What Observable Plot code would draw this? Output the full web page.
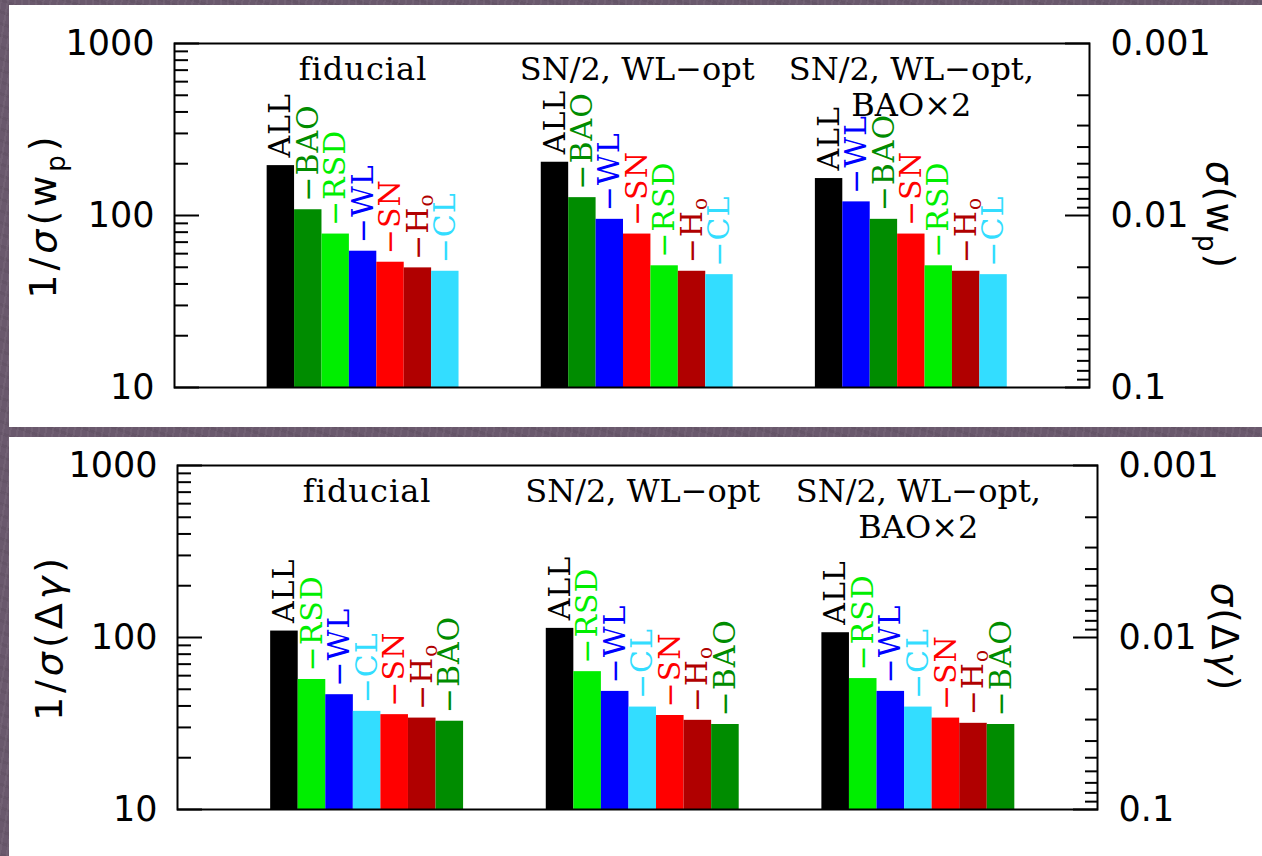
<!DOCTYPE html>
<html>
<head>
<meta charset="utf-8">
<script src="https://cdn.jsdelivr.net/npm/d3@7"></script>
<script src="https://cdn.jsdelivr.net/npm/@observablehq/plot@0.6"></script>
<style>
  html, body { margin: 0; padding: 0; }
  body {
    width: 1262px; height: 856px; overflow: hidden; position: relative;
    background-color: #6a596d;
    background-image:
      repeating-linear-gradient(100deg, rgba(255,255,255,0.05) 0 2px, rgba(0,0,0,0) 2px 7px),
      repeating-linear-gradient(20deg, rgba(0,0,0,0.05) 0 3px, rgba(0,0,0,0) 3px 11px);
  }
  .panel { position: absolute; left: 9px; width: 1253px; background: #fff; }
  .panel svg { display: block; }
  #wp { top: 5px; height: 422px; }
  #dg { top: 437px; height: 419px; }
</style>
</head>
<body>
<div id="wp" class="panel"></div>
<div id="dg" class="panel"></div>
<script>
// Scenario headings, one per group of bars
const scenarios = ["fiducial", "SN/2, WL−opt", "SN/2, WL−opt,\nBAO×2"];

// Probe colours
const probeColors = {
  ALL: "#000000", BAO: "#008c00", RSD: "#00ee00", WL: "#0000ff",
  SN: "#ff0000", H0: "#b00000", CL: "#33ddff"
};

// 1/σ(w_p): probe removed in each bar, per scenario, and the resulting value
const wpProbes = [
  ["ALL", "BAO", "RSD", "WL", "SN", "H0", "CL"],
  ["ALL", "BAO", "WL", "SN", "RSD", "H0", "CL"],
  ["ALL", "WL", "BAO", "SN", "RSD", "H0", "CL"]
];
const wpValues = [
  [195, 108, 78, 62, 53.5, 49.6, 47.4],
  [204, 127, 95, 78, 51, 47.4, 45.3],
  [164, 120, 95, 78, 51, 47.4, 45.3]
];

// 1/σ(Δγ)
const dgProbes = [
  ["ALL", "RSD", "WL", "CL", "SN", "H0", "BAO"],
  ["ALL", "RSD", "WL", "CL", "SN", "H0", "BAO"],
  ["ALL", "RSD", "WL", "CL", "SN", "H0", "BAO"]
];
const dgValues = [
  [109, 57, 46.5, 37.2, 35.6, 34, 32.6],
  [113, 63.3, 48.6, 39.4, 35.2, 33, 31.2],
  [106.6, 57.7, 48.6, 39.4, 34, 31.7, 31.2]
];

// Axis ticks
const yDomain = [10, 1000];
const yTicks = [10, 100, 1000];
const yMinorTicks = [20, 30, 40, 50, 60, 70, 80, 90, 200, 300, 400, 500, 600, 700, 800, 900];
const sigmaTicks = ["0.1", "0.01", "0.001"];
const sigmaMinorTicks = [0.002, 0.003, 0.004, 0.005, 0.006, 0.007, 0.008, 0.009,
                         0.02, 0.03, 0.04, 0.05, 0.06, 0.07, 0.08, 0.09];

const SERIF = "'DejaVu Serif', serif";
const SANS = "'DejaVu Sans', 'Liberation Sans', sans-serif";

function barRows(probes, values) {
  return probes.flatMap((list, g) => list.map((probe, i) => ({
    group: g,
    probe,
    value: values[g][i],
    x1: g * 10 + i,
    x2: g * 10 + i + 1,
    label: probe === "ALL" ? "ALL" : "−" + probe
  })));
}

// σ tick label for a 1/σ tick value
const sigmaLabelOf = new Map(sigmaTicks.map((s) => [1 / +s, s]));

function panel({rows, height, marginLeft, marginRight, marginTop, marginBottom,
                yLabel, sigmaLabel, leftDx, rightDx}) {
  return Plot.plot({
    width: 1253,
    height,
    marginLeft, marginRight, marginTop, marginBottom,
    style: {background: "white", color: "black", overflow: "visible"},
    x: {type: "linear", domain: [-3.38, 30], axis: null},
    y: {type: "log", domain: yDomain, label: null},
    color: {type: "identity"},
    marks: [
      Plot.rectY(rows, {
        x1: "x1", x2: "x2", y1: () => yDomain[0], y2: "value",
        fill: (d) => probeColors[d.probe]
      }),
      Plot.text(rows, {
        x: (d) => (d.x1 + d.x2) / 2, y: "value", text: "label",
        fill: (d) => probeColors[d.probe],
        rotate: -90, textAnchor: "start", lineAnchor: "middle", dy: -8,
        fontFamily: SERIF, fontSize: 30
      }),
      Plot.text(scenarios, {
        x: (d, i) => i * 10 + 3.5, frameAnchor: "top", dy: 11,
        text: (d) => d, lineAnchor: "top", lineHeight: 1.12,
        fontFamily: SERIF, fontSize: 32
      }),
      // left axis: 1/σ
      Plot.axisY({anchor: "left", ticks: yTicks, tickSize: -25, tickPadding: 45,
                  tickFormat: (d) => String(d), label: null,
                  fontFamily: SANS, fontSize: 35, strokeWidth: 2}),
      Plot.axisY({anchor: "left", ticks: yMinorTicks, tickSize: -14,
                  tickFormat: () => "", label: null, strokeWidth: 2}),
      // right axis: σ
      Plot.axisY({anchor: "right", ticks: [...sigmaLabelOf.keys()], tickSize: -25, tickPadding: 46,
                  tickFormat: (d) => sigmaLabelOf.get(d), label: null,
                  fontFamily: SANS, fontSize: 35, strokeWidth: 2}),
      Plot.axisY({anchor: "right", ticks: sigmaMinorTicks.map((s) => 1 / s), tickSize: -13,
                  tickFormat: () => "", label: null, strokeWidth: 2}),
      Plot.frame({stroke: "black", strokeWidth: 2}),
      Plot.text([yLabel], {
        frameAnchor: "left", dx: leftDx, text: (d) => d, rotate: -90,
        textAnchor: "middle", lineAnchor: "bottom", fontFamily: SANS, fontSize: 38
      }),
      Plot.text([sigmaLabel], {
        frameAnchor: "right", dx: rightDx, text: (d) => d, rotate: 90,
        textAnchor: "middle", lineAnchor: "bottom", fontFamily: SANS, fontSize: 37
      })
    ]
  });
}

// Rich text (italics, subscripts, spacing) for labels that plain strings cannot carry
const richText = {
  "1/σ(w_p)": {spacing: 4, parts: [["1/"], ["σ", "it"], ["(w"], ["p", "sub"], [")"]]},
  "σ(w_p)": {spacing: 2, parts: [["σ", "it"], ["(w"], ["p", "sub"], [")"]]},
  "1/σ(Δγ)": {spacing: 4, parts: [["1/"], ["σ", "it"], ["(Δ"], ["γ", "it"], [")"]]},
  "σ(Δγ)": {spacing: 2, parts: [["σ", "it"], ["(Δ"], ["γ", "it"], [")"]]},
  "−H0": {spacing: 1, parts: [["−H"], ["o", "sub0"]]}
};

function enrich(svg) {
  d3.select(svg).selectAll("text").each(function () {
    const t = d3.select(this);
    const content = this.textContent;
    if (/^(ALL|−[A-Z]+)$/.test(content)) t.attr("letter-spacing", 1);
    if (content === "fiducial") t.attr("letter-spacing", 1);
    const rich = richText[content];
    if (!rich) return;
    t.text(null).attr("letter-spacing", rich.spacing);
    let shift = 0;
    for (const [s, kind] of rich.parts) {
      const span = t.append("tspan").text(s);
      if (kind === "it") span.attr("font-style", "italic");
      if (kind === "sub") { span.attr("font-size", 26).attr("dy", 9); shift = 9; continue; }
      if (kind === "sub0") { span.attr("font-size", 20).attr("dy", 5); shift = 5; continue; }
      if (shift) { span.attr("dy", -shift); shift = 0; }
    }
  });
  return svg;
}

const wpPlot = panel({
  rows: barRows(wpProbes, wpValues), height: 422,
  marginLeft: 165, marginRight: 173, marginTop: 38, marginBottom: 40,
  yLabel: "1/σ(w_p)", sigmaLabel: "σ(w_p)", leftDx: -119, rightDx: 117
});
document.getElementById("wp").append(enrich(wpPlot));

const dgPlot = panel({
  rows: barRows(dgProbes, dgValues), height: 419,
  marginLeft: 168, marginRight: 165, marginTop: 28, marginBottom: 47,
  yLabel: "1/σ(Δγ)", sigmaLabel: "σ(Δγ)", leftDx: -116, rightDx: 114
});
document.getElementById("dg").append(enrich(dgPlot));
</script>
</body>
</html>
